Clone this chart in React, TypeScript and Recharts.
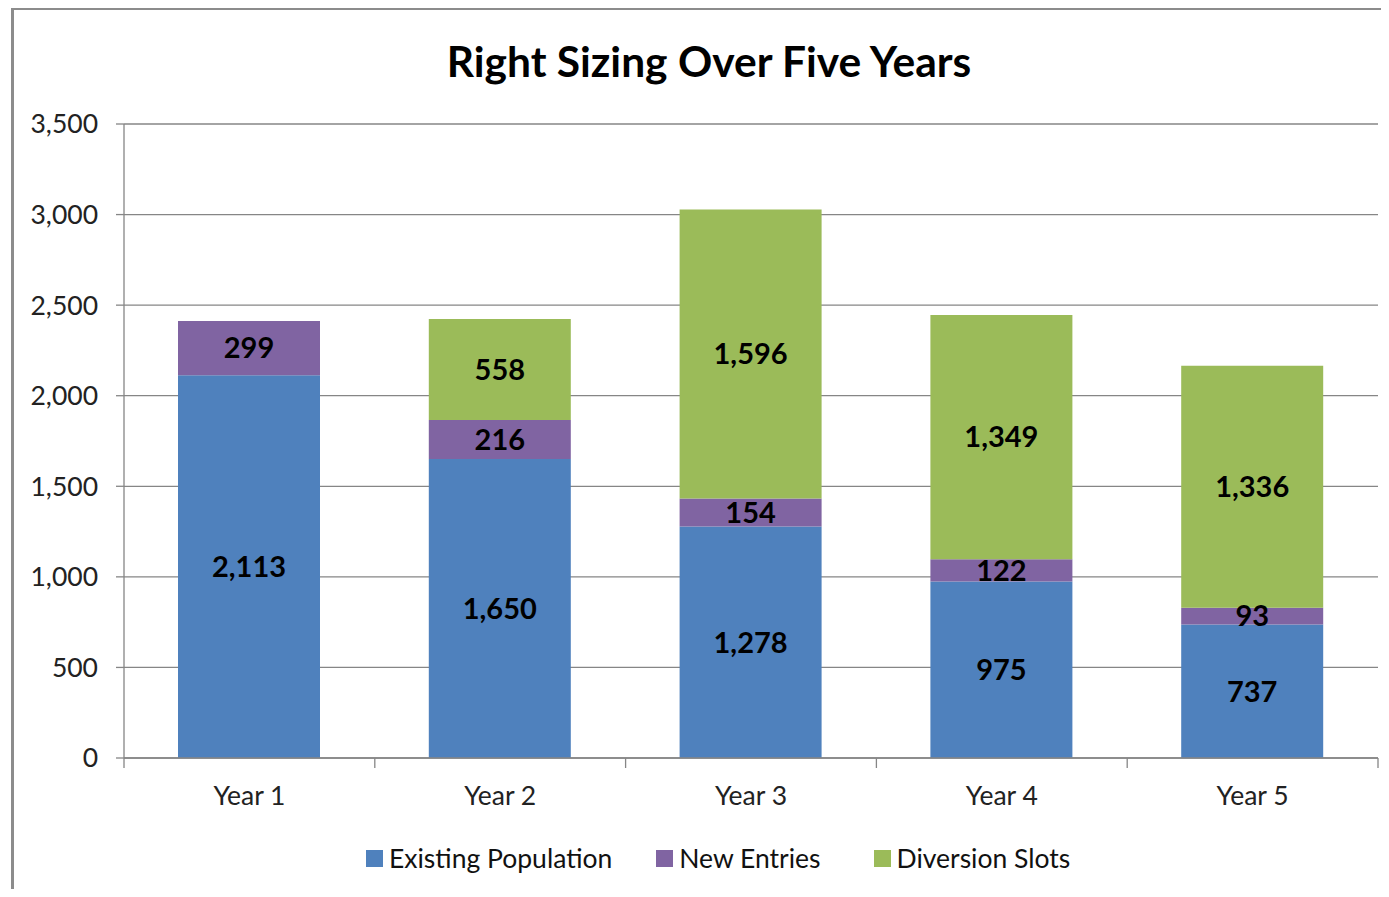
import React from 'react';
import {
  BarChart,
  Bar,
  XAxis,
  YAxis,
  CartesianGrid,
  LabelList,
} from 'recharts';

const years = ['Year 1', 'Year 2', 'Year 3', 'Year 4', 'Year 5'];
const existingPopulation = [2113, 1650, 1278, 975, 737];
const newEntries = [299, 216, 154, 122, 93];
const diversionSlots = [null, 558, 1596, 1349, 1336];
const yTicks = [0, 500, 1000, 1500, 2000, 2500, 3000, 3500];

const SERIES = [
  { key: 'existing', name: 'Existing Population', color: '#4F81BD', gap: 44 },
  { key: 'entries', name: 'New Entries', color: '#8064A2', gap: 53 },
  { key: 'diversion', name: 'Diversion Slots', color: '#9BBB59', gap: 0 },
];

const FONT = 'Lato, "Open Sans", sans-serif';
const AXIS_COLOR = '#868686';
const CHART_W = 1389;
const CHART_H = 897;
const PLOT_LEFT = 124;
const PLOT_RIGHT = 1378;
const BAND = (PLOT_RIGHT - PLOT_LEFT) / years.length;

const data = years.map((year, i) => ({
  year,
  existing: existingPopulation[i],
  entries: newEntries[i],
  diversion: diversionSlots[i],
}));

const fmt = (v: any) => (v == null ? '' : Number(v).toLocaleString('en-US'));

// category ticks sit between the bars, like the spreadsheet original
const YearTick = (props: any) => {
  const { x, y, payload, index } = props;
  const left = x - BAND / 2;
  return (
    <g>
      <line x1={left} y1={y - 8} x2={left} y2={y + 2} stroke={AXIS_COLOR} strokeWidth={1.3} />
      {index === years.length - 1 && (
        <line x1={left + BAND} y1={y - 8} x2={left + BAND} y2={y + 2} stroke={AXIS_COLOR} strokeWidth={1.3} />
      )}
      <text x={x} y={y + 39} textAnchor="middle" fontSize={26.5} fontFamily={FONT} fill="#222">
        {payload.value}
      </text>
    </g>
  );
};

const ChartLegend = () => (
  <div
    style={{
      position: 'absolute',
      top: 842,
      left: 366,
      display: 'flex',
      fontFamily: FONT,
      fontSize: 26.5,
      color: '#111',
      whiteSpace: 'nowrap',
    }}
  >
    {SERIES.map((s) => (
      <div key={s.key} style={{ display: 'flex', alignItems: 'center', marginRight: s.gap }}>
        <span style={{ display: 'inline-block', width: 17, height: 17, background: s.color, marginRight: 6 }} />
        <span>{s.name}</span>
      </div>
    ))}
  </div>
);

export default function App() {
  return (
    <div style={{ position: 'relative', margin: -8, width: CHART_W, height: CHART_H, overflow: 'hidden', background: '#fff' }}>
      <div
        style={{
          position: 'absolute',
          left: 11,
          top: 7,
          width: CHART_W,
          height: 920,
          borderTop: '3px solid #8c8c8c',
          borderLeft: '3px solid #8c8c8c',
        }}
      />
      <div
        style={{
          position: 'absolute',
          left: 0,
          width: 1418,
          top: 35,
          textAlign: 'center',
          fontFamily: FONT,
          fontWeight: 700,
          fontSize: 42.5,
          color: '#000',
        }}
      >
        Right Sizing Over Five Years
      </div>
      <div style={{ position: 'absolute', left: 0, top: 0 }}>
        <BarChart
          width={CHART_W}
          height={CHART_H}
          data={data}
          margin={{ top: 124, right: CHART_W - PLOT_RIGHT, bottom: 0, left: 0 }}
          barSize={142}
        >
          <CartesianGrid vertical={false} stroke={AXIS_COLOR} strokeWidth={1.3} />
          <XAxis
            dataKey="year"
            stroke={AXIS_COLOR}
            strokeWidth={1.3}
            tickLine={false}
            tick={<YearTick />}
            height={139}
            interval={0}
          />
          <YAxis
            width={PLOT_LEFT}
            domain={[0, 3500]}
            ticks={yTicks}
            tickFormatter={fmt}
            stroke={AXIS_COLOR}
            strokeWidth={1.3}
            tickSize={8}
            tickMargin={18}
            tick={{ fontSize: 26.5, fontFamily: FONT, fill: '#222' }}
            interval={0}
          />
          {SERIES.map((s) => (
            <Bar key={s.key} dataKey={s.key} name={s.name} stackId="a" fill={s.color} isAnimationActive={false}>
              <LabelList
                dataKey={s.key}
                position="center"
                formatter={fmt}
                style={{ fontSize: 29, fontWeight: 700, fontFamily: FONT, fill: '#000' }}
              />
            </Bar>
          ))}
        </BarChart>
      </div>
      <ChartLegend />
    </div>
  );
}
